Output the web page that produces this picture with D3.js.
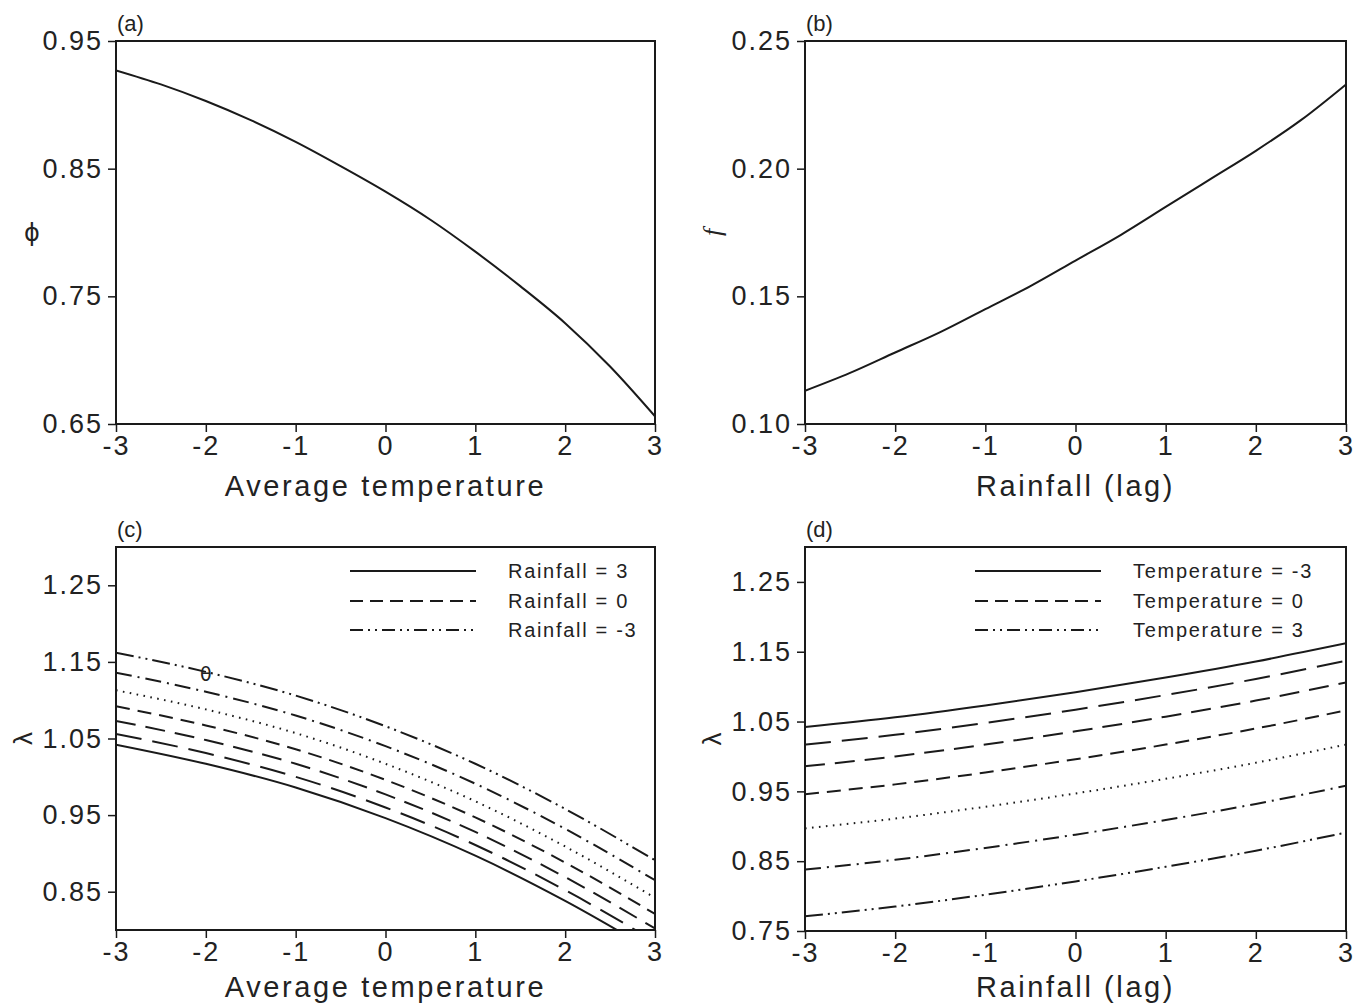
<!DOCTYPE html>
<html>
<head>
<meta charset="utf-8">
<script src="https://cdn.jsdelivr.net/npm/d3@7"></script>
<style>
  body { margin: 0; background: #fff; }
  svg text { font-family: "Liberation Sans", Arial, sans-serif; fill: #222; }
</style>
</head>
<body>
<svg id="chart" width="1367" height="1004"></svg>
<script>
// ---- data ----
const stepX = [-3, -2.5, -2, -1.5, -1, -0.5, 0, 0.5, 1, 1.5, 2, 2.5, 3];
const phiVals = [0.927, 0.916, 0.903, 0.888, 0.871, 0.852, 0.832, 0.810, 0.785, 0.758, 0.729, 0.695, 0.656];
const fVals = [0.113, 0.120, 0.128, 0.136, 0.145, 0.154, 0.164, 0.174, 0.185, 0.196, 0.207, 0.219, 0.233];

const gridT = [-3, -2, -1, 0, 1, 2, 3];
const gridR = [-3, -2, -1, 0, 1, 2, 3];
// rows = temperature, columns = rainfall (lag)
const lambdaGrid = [
  [1.042, 1.056, 1.073, 1.092, 1.113, 1.136, 1.162],
  [1.017, 1.031, 1.048, 1.067, 1.088, 1.111, 1.137],
  [0.986, 1.000, 1.017, 1.036, 1.057, 1.080, 1.106],
  [0.946, 0.960, 0.977, 0.996, 1.017, 1.040, 1.066],
  [0.897, 0.911, 0.928, 0.947, 0.968, 0.991, 1.017],
  [0.838, 0.852, 0.869, 0.888, 0.909, 0.932, 0.958],
  [0.771, 0.785, 0.802, 0.821, 0.842, 0.865, 0.891]
];

const xTicks = [-3, -2, -1, 0, 1, 2, 3];
const ticksA = [0.65, 0.75, 0.85, 0.95];
const ticksB = [0.10, 0.15, 0.20, 0.25];
const ticksC = [0.85, 0.95, 1.05, 1.15, 1.25];
const ticksD = [0.75, 0.85, 0.95, 1.05, 1.15, 1.25];

const legendC = ["Rainfall = 3", "Rainfall = 0", "Rainfall = -3"];
const legendD = ["Temperature = -3", "Temperature = 0", "Temperature = 3"];

// line styles, lowest index = solid
const dashes = [null, "26,11", "20,10", "14,8", "1.6,5.4", "16,6,2,6", "18,5,2,5,2,5"];
const legendDashes = [null, "13,7", "13,5,2,5,2,5"];

const svg = d3.select("#chart");
svg.append("rect").attr("width", 1367).attr("height", 1004).attr("fill", "#fff");

const ink = "#1a1a1a";

function panel(cfg) {
  const { x0, x1, y0, y1, ydom, yticks, tag, xlabel, ylabel, yFont, yRotate, id } = cfg;
  const x = d3.scaleLinear().domain([-3, 3]).range([x0, x1]);
  const y = d3.scaleLinear().domain(ydom).range([y1, y0]);

  svg.append("clipPath").attr("id", id)
    .append("rect").attr("x", x0).attr("y", y0).attr("width", x1 - x0).attr("height", y1 - y0);

  // plain hyphen minus, as in the figure
  const ax = svg.append("g").attr("transform", `translate(0,${y1})`)
    .call(d3.axisBottom(x).tickValues(xTicks).tickSize(8).tickPadding(4).tickFormat(d => String(d)));
  const ay = svg.append("g").attr("transform", `translate(${x0},0)`)
    .call(d3.axisLeft(y).tickValues(yticks).tickSize(8).tickPadding(5).tickFormat(d => d.toFixed(2)));
  [ax, ay].forEach(g => {
    g.select(".domain").remove();
    g.selectAll("line").attr("stroke", ink).attr("stroke-width", 1.5);
    g.selectAll("text").style("font-size", "27px").style("letter-spacing", "2px")
      .style("font-family", '"Liberation Sans", Arial, sans-serif').attr("fill", "#222");
  });

  svg.append("rect").attr("x", x0).attr("y", y0).attr("width", x1 - x0).attr("height", y1 - y0)
    .attr("fill", "none").attr("stroke", ink).attr("stroke-width", 2);

  svg.append("text").attr("x", x0 + 1).attr("y", y0 - 10)
    .style("font-size", "22px").text(tag);

  svg.append("text").attr("x", (x0 + x1) / 2).attr("y", y1 + cfg.xlabDy)
    .attr("text-anchor", "middle").style("font-size", "29px").style("letter-spacing", "2.6px")
    .text(xlabel);

  svg.append("text")
    .attr("transform", `translate(${x0 - 84},${(y0 + y1) / 2})` + (yRotate ? " rotate(-90)" : ""))
    .attr("text-anchor", "middle")
    .attr("dy", yRotate ? "0" : "0.35em")
    .style("font-size", yRotate ? "26px" : "24px")
    .style("font-style", yFont === "italic" ? "italic" : "normal")
    .style("font-family", yFont === "italic" ? '"Liberation Serif", serif'
      : (yFont === "greek" ? '"DejaVu Sans", sans-serif' : '"Liberation Sans", sans-serif'))
    .text(ylabel);

  return { x, y, clip: `url(#${id})` };
}

function drawLine(p, xs, ys, dash) {
  const line = d3.line().x(d => p.x(d[0])).y(d => p.y(d[1])).curve(d3.curveMonotoneX);
  svg.append("path")
    .datum(xs.map((v, i) => [v, ys[i]]))
    .attr("clip-path", p.clip)
    .attr("fill", "none")
    .attr("stroke", ink)
    .attr("stroke-width", 2)
    .attr("stroke-dasharray", dash)
    .attr("d", line);
}

function legend(x0, yRows, labels) {
  labels.forEach((lab, i) => {
    svg.append("line").attr("x1", x0).attr("x2", x0 + 126)
      .attr("y1", yRows[i]).attr("y2", yRows[i])
      .attr("stroke", ink).attr("stroke-width", 2)
      .attr("stroke-dasharray", legendDashes[i]);
    svg.append("text").attr("x", x0 + 158).attr("y", yRows[i] + 7)
      .style("font-size", "20px").style("letter-spacing", "1.7px").text(lab);
  });
}

// (a)
const pa = panel({ id: "ca", x0: 116, x1: 655, y0: 41, y1: 424, ydom: [0.65, 0.95], yticks: ticksA,
  tag: "(a)", xlabel: "Average temperature", xlabDy: 72, ylabel: "\u03d5", yFont: "greek", yRotate: false });
drawLine(pa, stepX, phiVals, null);

// (b)
const pb = panel({ id: "cb", x0: 805, x1: 1346, y0: 41, y1: 424, ydom: [0.10, 0.25], yticks: ticksB,
  tag: "(b)", xlabel: "Rainfall (lag)", xlabDy: 72, ylabel: "f", yFont: "italic", yRotate: true });
drawLine(pb, stepX, fVals, null);

// (c) lambda vs temperature, one line per rainfall value
const pc = panel({ id: "cc", x0: 116, x1: 655, y0: 547, y1: 930, ydom: [0.80, 1.30], yticks: ticksC,
  tag: "(c)", xlabel: "Average temperature", xlabDy: 67, ylabel: "\u03bb", yFont: "plain", yRotate: true });
gridR.forEach((r, j) => drawLine(pc, gridT, lambdaGrid.map(row => row[j]), dashes[j]));
legend(350, [571, 601, 630], legendC);
svg.append("text").attr("x", pc.x(-2)).attr("y", pc.y(1.134) + 7).attr("text-anchor", "middle")
  .style("font-size", "19px").style("font-family", '"DejaVu Sans", sans-serif').attr("fill", "#9a9a9a").text("\u03b8");

// (d) lambda vs rainfall, one line per temperature value
const pd = panel({ id: "cd", x0: 805, x1: 1346, y0: 547, y1: 931, ydom: [0.75, 1.30], yticks: ticksD,
  tag: "(d)", xlabel: "Rainfall (lag)", xlabDy: 66, ylabel: "\u03bb", yFont: "plain", yRotate: true });
gridT.forEach((t, i) => drawLine(pd, gridR, lambdaGrid[i], dashes[i]));
legend(975, [571, 601, 630], legendD);
</script>
</body>
</html>
